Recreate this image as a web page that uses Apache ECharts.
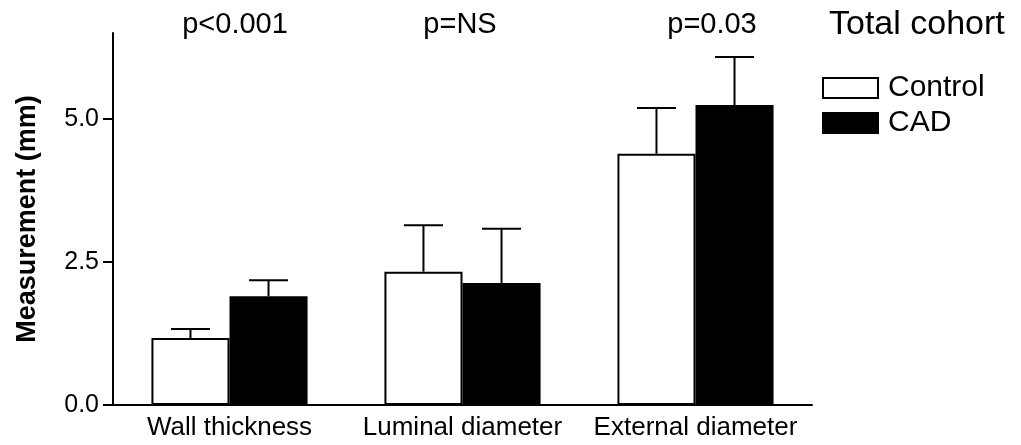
<!DOCTYPE html>
<html><head><meta charset="utf-8">
<script src="https://cdn.jsdelivr.net/npm/echarts@6/dist/echarts.min.js"></script>
<style>html,body{margin:0;padding:0;background:#fff}#c{width:1021px;height:445px}</style>
</head><body><div id="c"></div>
<script>
const categories = ['Wall thickness', 'Luminal diameter', 'External diameter'];
const controlMean = [1.17, 2.33, 4.39];
const controlErr = [0.16, 0.81, 0.80];
const cadMean = [1.90, 2.13, 5.24];
const cadErr = [0.28, 0.95, 0.84];
const pLabels = ['p<0.001', 'p=NS', 'p=0.03'];
const yTicks = [0, 2.5, 5.0];

const FONT = '"Liberation Sans", Arial, Helvetica, sans-serif';
const BAR_FRACTION = 0.67;

function errorSeries(name, means, errs, side) {
  return {
    type: 'custom', name: name + ' err', z: 5, silent: true,
    data: means.map((m, i) => [i, m, errs[i]]),
    renderItem: function (params, api) {
      const i = api.value(0), m = api.value(1), e = api.value(2);
      const base = api.coord([i, m]);
      const top = api.coord([i, m + e]);
      const band = api.size([1, 0])[0];
      const bw = band * BAR_FRACTION / 2;
      const cx = base[0] + side * bw / 2;
      const half = bw / 4;
      return {
        type: 'group', children: [
          { type: 'line', shape: { x1: cx, y1: base[1], x2: cx, y2: top[1] }, style: { stroke: '#000', lineWidth: 2 } },
          { type: 'line', shape: { x1: cx - half, y1: top[1], x2: cx + half, y2: top[1] }, style: { stroke: '#000', lineWidth: 2 } }
        ]
      };
    }
  };
}

const chart = echarts.init(document.getElementById('c'));
chart.setOption({
  animation: false,
  backgroundColor: '#fff',
  textStyle: { fontFamily: FONT, color: '#000' },
  grid: { left: 113, right: 209, top: 33, bottom: 40 },
  legend: {
    orient: 'vertical', left: 822, top: 73, padding: 0, itemWidth: 55, itemHeight: 20, itemGap: 5,
    icon: 'rect',
    textStyle: { fontSize: 30, color: '#000', fontFamily: FONT, padding: [0, 0, 0, 5] },
    data: ['Control', 'CAD']
  },
  graphic: [
    { type: 'text', x: 829, y: 25, style: { text: 'Total cohort', font: '34px ' + FONT, fill: '#000', verticalAlign: 'middle' } }
  ].concat(pLabels.map((t, i) => ({
    type: 'text', x: [235, 460, 712][i], y: 25,
    style: { text: t, font: '29px ' + FONT, fill: '#000', align: 'center', verticalAlign: 'middle' }
  }))),
  xAxis: {
    type: 'category', data: categories,
    axisLine: { lineStyle: { color: '#000', width: 2 } },
    axisTick: { show: false },
    axisLabel: { fontSize: 26, color: '#000', margin: 10, fontFamily: FONT, interval: 0 }
  },
  yAxis: {
    type: 'value', min: 0, max: 6.5, interval: 2.5,
    name: 'Measurement (mm)', nameLocation: 'middle', nameGap: 72,
    nameTextStyle: { fontSize: 27, fontWeight: 'bold', color: '#000', fontFamily: FONT },
    axisLine: { show: true, lineStyle: { color: '#000', width: 2 } },
    axisTick: { show: true, length: 10, lineStyle: { color: '#000', width: 2 }, customValues: yTicks },
    axisLabel: { fontSize: 25, color: '#000', margin: 14, fontFamily: FONT, customValues: yTicks,
      formatter: v => v.toFixed(1) },
    splitLine: { show: false }
  },
  series: [
    { name: 'Control', type: 'bar', data: controlMean, barGap: '0%', barCategoryGap: '33%',
      itemStyle: { color: '#fff', borderColor: '#000', borderWidth: 2 } },
    { name: 'CAD', type: 'bar', data: cadMean, barGap: '0%', barCategoryGap: '33%',
      itemStyle: { color: '#000', borderColor: '#000', borderWidth: 2 } },
    errorSeries('Control', controlMean, controlErr, -1),
    errorSeries('CAD', cadMean, cadErr, 1)
  ]
});
</script></body></html>
